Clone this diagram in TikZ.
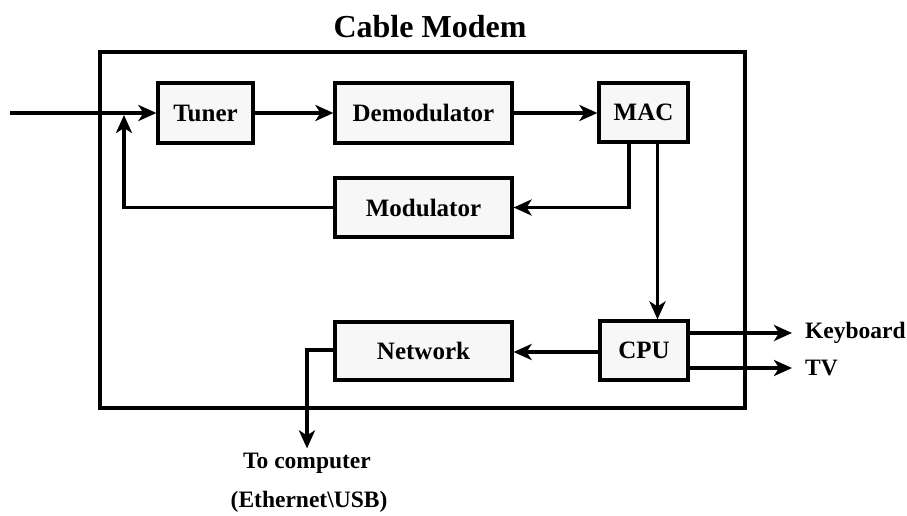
\documentclass[tikz,border=0pt]{standalone}
\usepackage{fontspec}
\setmainfont{Liberation Serif}
\usetikzlibrary{arrows.meta}
\begin{document}
\begin{tikzpicture}[x=1pt,y=-1pt,
  block/.style={draw=black, line width=3.2pt, fill=gray!6, inner sep=0pt,
    font=\fontsize{25}{28}\selectfont\bfseries},
  conn/.style={line width=3.4pt, -{Stealth[length=18pt,width=16pt,inset=5pt]}},
  wire/.style={line width=3.4pt},
  lbl/.style={inner sep=0pt, font=\fontsize{23.5}{26}\selectfont\bfseries}]
\useasboundingbox (0,0) rectangle (907,516);

% enclosure of the modem
\draw[wire] (100,52) rectangle (745,408);
\node[anchor=base, inner sep=0pt, font=\fontsize{32}{36}\selectfont\bfseries] (title) at (430,38) {Cable Modem};

% functional blocks
\node[block, minimum width=95pt, minimum height=60pt] (tuner) at (205.5,113) {Tuner};
\node[block, minimum width=177pt, minimum height=60pt] (demod) at (423.5,113) {Demodulator};
\node[block, minimum width=89pt, minimum height=59pt] (mac) at (643.5,112.5) {MAC};
\node[block, minimum width=177pt, minimum height=59pt] (mod) at (423.5,207.5) {Modulator};
\node[block, minimum width=177pt, minimum height=58pt] (net) at (423.5,351) {Network};
\node[block, minimum width=88pt, minimum height=59pt] (cpu) at (644,350.5) {CPU};

% outside labels
\node[lbl, anchor=base west] (kb) at (805,338) {Keyboard};
\node[lbl, anchor=base west] (tv) at (805,375) {TV};
\node[lbl, anchor=base] (tc) at (307,468) {To computer};
\node[lbl, anchor=base] (eth) at (309,507) {(Ethernet\textbackslash USB)};

% free ends
\coordinate (cable) at (10,113);
\coordinate (join) at (124,115);

% signal path
\draw[conn] (cable) -- (tuner.west);
\draw[conn] (tuner.east) -- (demod.west);
\draw[conn] (demod.east) -- (mac.west |- demod.east);
\draw[conn] ([xshift=-14.5pt]mac.south) |- (mod.east);
\draw[conn] (mod.west) -| (join);
\draw[conn] ([xshift=14pt]mac.south) -- ([xshift=14pt]mac.south |- cpu.north);
\draw[conn] (cpu.west |- 0,352) -- (net.east |- 0,352);
\draw[conn] (net.west |- 0,350) -| ([yshift=4pt]tc.north);
\draw[conn] (cpu.east |- 0,333) -- ([xshift=-13pt]kb.west |- 0,333);
\draw[conn] (cpu.east |- 0,368) -- ([xshift=-13pt]tv.west |- 0,368);
\end{tikzpicture}
\end{document}
